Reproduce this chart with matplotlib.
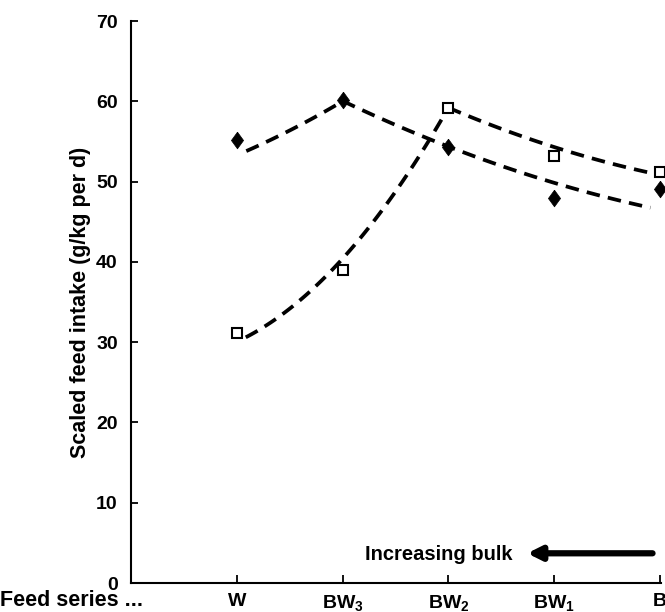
import numpy as np
import matplotlib
matplotlib.use("Agg")
import matplotlib.pyplot as plt

plt.rcParams['font.family'] = ['Liberation Sans', 'DejaVu Sans']
plt.rcParams['font.weight'] = 'bold'
plt.rcParams['axes.labelweight'] = 'bold'
plt.rcParams['mathtext.fontset'] = 'custom'
plt.rcParams['mathtext.rm'] = 'Liberation Sans:bold'
plt.rcParams['mathtext.it'] = 'Liberation Sans:bold'
plt.rcParams['mathtext.default'] = 'rm'

feeds = ['W', 'BW$_3$', 'BW$_2$', 'BW$_1$', 'B']
feed_pos = [1, 2, 3, 4, 5]

# measured intakes
diamond_vals = [55.2, 60.1, 54.3, 48.0, 49.1]
square_vals = [31.2, 39.0, 59.2, 53.2, 51.2]

# fitted curves (x, y)
d_fit1_x = [1.09, 1.52, 2.0]
d_fit1_y = [53.8, 56.5, 60.0]
d_fit2_x = [2.0, 3.0, 4.0, 4.91]
d_fit2_y = [60.0, 54.5, 49.7, 46.8]
s_fit1_x = [1.085, 2.0, 3.0]
s_fit1_y = [30.6, 40.4, 59.2]
s_fit2_x = [3.0, 4.0, 4.94]
s_fit2_y = [59.2, 54.3, 51.0]

fig = plt.figure(figsize=(6.65, 6.12), dpi=100)
ax = fig.add_axes([131 / 665, 29 / 612, 530 / 665, 562 / 612])

# dashed fitted lines
for fx, fy in [(d_fit1_x, d_fit1_y), (d_fit2_x, d_fit2_y),
               (s_fit1_x, s_fit1_y), (s_fit2_x, s_fit2_y)]:
    c = np.polyfit(fx, fy, 2)
    xs = np.linspace(fx[0], fx[-1], 100)
    ax.plot(xs, np.polyval(c, xs), color='black', lw=2.7,
            dashes=(3.6, 2.2), zorder=2)

diamond = [(0, 1), (0.73, 0), (0, -1), (-0.73, 0), (0, 1)]
ax.plot(feed_pos, diamond_vals, linestyle='none', marker=diamond, ms=12,
        color='black', mew=0.5, zorder=3, clip_on=False)
ax.plot(feed_pos, square_vals, linestyle='none', marker='s', ms=7.8,
        markerfacecolor='white', markeredgecolor='black', mew=1.5,
        zorder=3, clip_on=False)

ax.set_xlim(0, 5.01)
ax.set_ylim(0, 70)
ax.set_xticks(feed_pos)
ax.set_xticklabels(feeds)
ax.set_yticks(range(0, 71, 10))

for s in ['top', 'right']:
    ax.spines[s].set_visible(False)
for s in ['left', 'bottom']:
    ax.spines[s].set_linewidth(1.5)

ax.tick_params(axis='y', direction='in', length=5, width=1.3, pad=9.5,
               labelsize=14)
ax.tick_params(axis='x', direction='in', length=6, width=1.3, pad=7,
               labelsize=14)

ax.set_ylabel('Scaled feed intake (g/kg per d)', fontsize=15.5,
              labelpad=4)

fig.text(0.0, 0.018, 'Feed series ...', fontsize=15.5, ha='left',
         va='center')

# increasing bulk arrow
ax.text(3.61, 3.6, 'Increasing bulk', fontsize=14.5, ha='right',
        va='center')
ax.annotate('', xy=(3.745, 3.7), xytext=(4.93, 3.7),
            arrowprops=dict(arrowstyle='-|>', lw=4.5, color='black',
                            mutation_scale=20, shrinkA=0, shrinkB=0))

fig.savefig('out.png', dpi=100)
